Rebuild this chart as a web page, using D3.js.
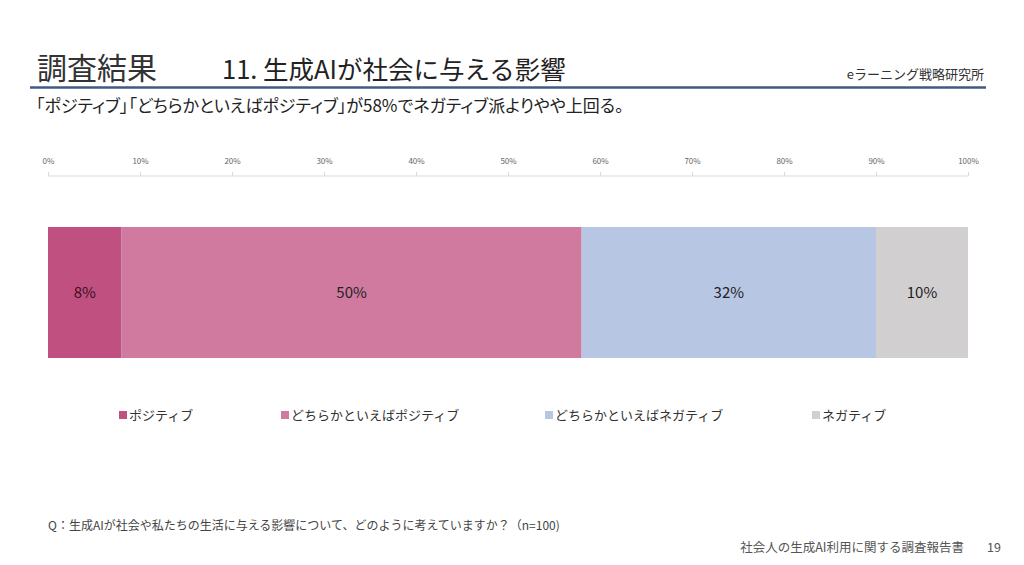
<!DOCTYPE html>
<html>
<head>
<meta charset="utf-8">
<script src="https://cdn.jsdelivr.net/npm/d3@7"></script>
<style>
  body { margin: 0; background: #fff; }
  svg text { font-family: "Noto Sans CJK JP", "Noto Sans", sans-serif; }
  .palt { font-feature-settings: "palt"; }
</style>
</head>
<body>
<svg id="chart" width="1024" height="565"></svg>
<script>
// data for the stacked bar
let categories = ["ポジティブ", "どちらかといえばポジティブ", "どちらかといえばネガティブ", "ネガティブ"];
let values = [8, 50, 32, 10];
let colors = ["#c0507f", "#d07aa0", "#b7c6e3", "#d1cfd0"];
let tickValues = [0, 10, 20, 30, 40, 50, 60, 70, 80, 90, 100];
let legendX = [119, 281, 545, 812];

let svg = d3.select("#chart");

// header
svg.append("text").attr("x", 37).attr("y", 79)
   .style("font-size", "30px").style("fill", "#333").text("調査結果");
svg.append("text").attr("x", 222).attr("y", 79)
   .style("font-size", "25.5px").style("fill", "#222").text("11. 生成AIが社会に与える影響");
svg.append("text").attr("x", 984).attr("y", 79).attr("text-anchor", "end")
   .style("font-size", "13px").style("fill", "#333").text("eラーニング戦略研究所");
svg.append("line").attr("x1", 30).attr("x2", 986).attr("y1", 87.5).attr("y2", 87.5)
   .style("stroke", "#3f5b85").style("stroke-width", 2.5);
svg.append("text").attr("class", "palt").attr("x", 36).attr("y", 112)
   .style("font-size", "17px").style("fill", "#222")
   .text("「ポジティブ」「どちらかといえばポジティブ」が58%でネガティブ派よりやや上回る。");

// scale + axis
let x = d3.scaleLinear().domain([0, 100]).range([48, 968]);
let axis = d3.axisTop(x).tickValues(tickValues).tickSize(4).tickFormat(d => d + "%");
let gAxis = svg.append("g").attr("transform", "translate(0,176)").call(axis);
gAxis.select(".domain").style("stroke", "#d9d9d9").attr("d", "M48,0H968");
gAxis.selectAll(".tick line").style("stroke", "#d9d9d9").attr("y2", -4);
gAxis.selectAll(".tick text").style("font-size", "8px").style("fill", "#666").attr("dy", "-5");

// stacked bar
let starts = values.map((v, i) => d3.sum(values.slice(0, i)));
let barY = 227, barH = 131;
svg.selectAll("rect.seg")
   .data(values)
   .enter()
   .append("rect")
   .attr("class", "seg")
   .attr("x", (d, i) => x(starts[i]))
   .attr("width", (d, i) => x(starts[i] + d) - x(starts[i]))
   .attr("y", barY)
   .attr("height", barH)
   .style("fill", (d, i) => colors[i]);

svg.selectAll("text.lbl")
   .data(values)
   .enter()
   .append("text")
   .attr("class", "lbl")
   .attr("x", (d, i) => x(starts[i] + d / 2))
   .attr("y", barY + barH / 2 + 5)
   .attr("text-anchor", "middle")
   .style("font-size", "15px")
   .style("fill", (d, i) => i === 0 ? "#3a0f22" : "#222")
   .text(d => d + "%");

// legend
let leg = svg.selectAll("g.leg")
   .data(categories)
   .enter()
   .append("g")
   .attr("class", "leg")
   .attr("transform", (d, i) => `translate(${legendX[i]},416)`);
leg.append("rect").attr("x", 0).attr("y", -5).attr("width", 8).attr("height", 8)
   .style("fill", (d, i) => colors[i]);
leg.append("text").attr("x", 10).attr("y", 4)
   .style("font-size", "13px").style("fill", "#333").text(d => d);

// footer
svg.append("text").attr("x", 48).attr("y", 530)
   .style("font-size", "12px").style("fill", "#444")
   .text("Q：生成AIが社会や私たちの生活に与える影響について、どのように考えていますか？（n=100)");
svg.append("text").attr("x", 964).attr("y", 552).attr("text-anchor", "end")
   .style("font-size", "12.5px").style("fill", "#555").text("社会人の生成AI利用に関する調査報告書");
svg.append("text").attr("x", 987).attr("y", 552)
   .style("font-size", "12.5px").style("fill", "#555").text("19");
</script>
</body>
</html>
